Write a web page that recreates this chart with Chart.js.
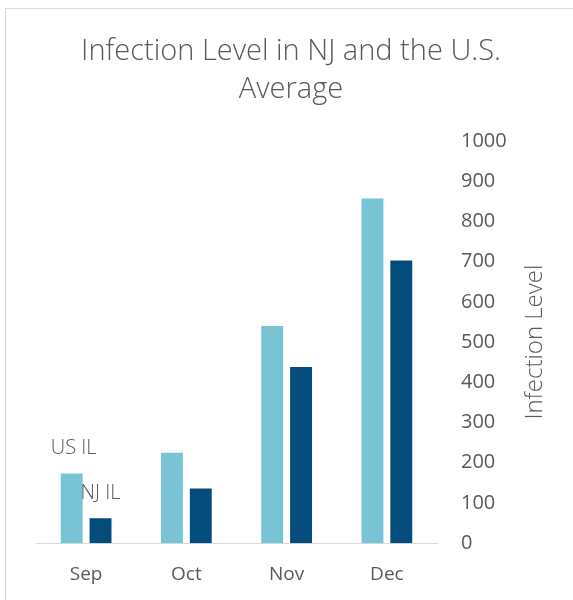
<!DOCTYPE html>
<html>
<head>
<meta charset="utf-8">
<script src="https://cdn.jsdelivr.net/npm/chart.js@4/dist/chart.umd.min.js"></script>
<style>
  html, body { margin: 0; padding: 0; background: #fff; }
  #wrap { position: relative; width: 573px; height: 600px; overflow: hidden; }
  #frame { position: absolute; left: 5px; top: 8px; width: 600px; height: 600px; border: 1px solid #d9d9d9; box-sizing: border-box; }
  canvas { position: absolute; left: 0; top: 0; }
</style>
</head>
<body>
<div id="wrap">
  <div id="frame"></div>
  <canvas id="chart" width="573" height="600"></canvas>
</div>
<script>
const months = ['Sep', 'Oct', 'Nov', 'Dec'];
const usIL = [173, 225, 540, 857];
const njIL = [62, 136, 438, 703];
const yTicks = [0, 100, 200, 300, 400, 500, 600, 700, 800, 900, 1000];
const yTitle = 'Infection Level';

const font = "'Open Sans', 'Noto Sans', sans-serif";
const grey = '#595959';

// puts the series name above the first bar of each series
const seriesLabels = {
    id: 'seriesLabels',
    afterDatasetsDraw(chart) {
        const ctx = chart.ctx;
        ctx.save();
        ctx.fillStyle = grey;
        ctx.font = '300 20px ' + font;
        ctx.textAlign = 'center';
        ctx.textBaseline = 'middle';
        chart.data.datasets.forEach((ds, i) => {
            const bar = chart.getDatasetMeta(i).data[0];
            ctx.fillText(ds.label, bar.x + (i === 0 ? 2 : 0), bar.y - 25);
        });
        ctx.restore();
    }
};

// y axis title reading bottom to top, right of the tick labels
const axisTitle = {
    id: 'axisTitle',
    afterDraw(chart) {
        const ctx = chart.ctx;
        const y = chart.scales.y;
        ctx.save();
        ctx.translate(chart.width - 38, (y.top + y.bottom) / 2);
        ctx.rotate(-Math.PI / 2);
        ctx.fillStyle = grey;
        ctx.font = '300 24px ' + font;
        ctx.textAlign = 'center';
        ctx.textBaseline = 'middle';
        ctx.fillText(yTitle, 0, 0);
        ctx.restore();
    }
};

new Chart(document.getElementById('chart').getContext('2d'), {
    type: 'bar',
    data: {
        labels: months,
        datasets: [
            { label: 'US IL', data: usIL, backgroundColor: '#78C4D4', yAxisID: 'y' },
            { label: 'NJ IL', data: njIL, backgroundColor: '#034C7C', yAxisID: 'y' }
        ]
    },
    options: {
        responsive: false,
        animation: false,
        categoryPercentage: 0.575,
        barPercentage: 0.76,
        layout: { padding: { left: 9, right: 0, top: 0, bottom: 2 } },
        plugins: {
            legend: { display: false },
            tooltip: { enabled: false },
            title: {
                display: true,
                text: ['Infection Level in NJ and the U.S.', 'Average'],
                color: grey,
                font: { family: font, size: 29, weight: 300, lineHeight: 1.31 },
                padding: { top: 33, bottom: 32 }
            }
        },
        scales: {
            x: {
                grid: { display: false },
                border: { display: true, color: '#d9d9d9', width: 1 },
                ticks: { color: grey, font: { family: font, size: 19 }, padding: 12 }
            },
            y: {
                position: 'right',
                min: 0,
                max: 1000,
                afterBuildTicks(axis) { axis.ticks = yTicks.map(v => ({ value: v })); },
                afterFit(s) { s.width = 136; },
                grid: { display: false },
                border: { display: false },
                ticks: { color: grey, font: { family: font, size: 20 }, padding: 16, callback: v => String(v) }
            },
            // empty spacer on the left
            yL: {
                position: 'left',
                grid: { display: false },
                border: { display: false },
                ticks: { display: false },
                afterFit(s) { s.width = 27; }
            }
        }
    },
    plugins: [seriesLabels, axisTitle]
});
</script>
</body>
</html>
